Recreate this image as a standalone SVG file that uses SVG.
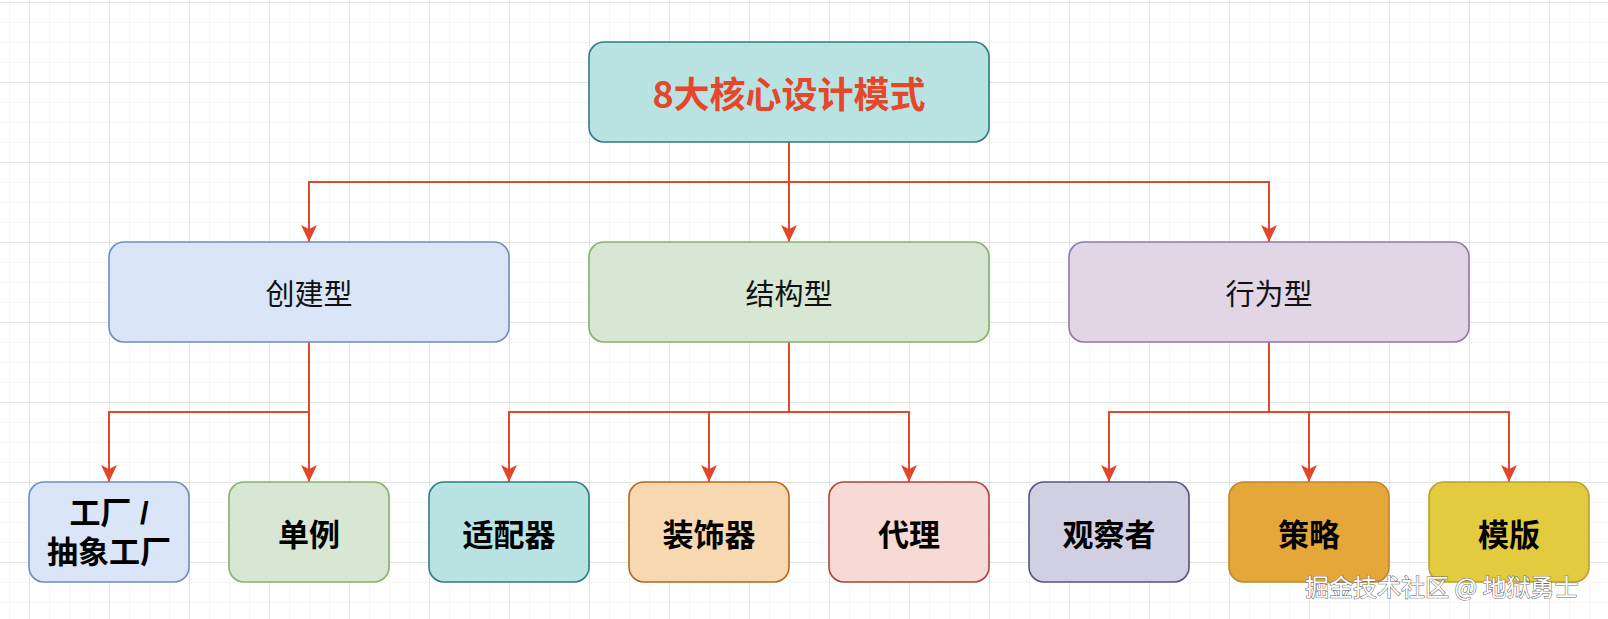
<svg xmlns="http://www.w3.org/2000/svg" width="1608" height="619" viewBox="0 0 1608 619">
  <style>
    .box { stroke-width: 1.6; }
    .t2 { font-family: "Noto Sans CJK SC", "Noto Sans", sans-serif; font-size: 29px; fill: #111; text-anchor: middle; dominant-baseline: central; }
    .t3 { font-family: "Noto Sans CJK SC", "Noto Sans", sans-serif; font-size: 31px; font-weight: 700; fill: #000; text-anchor: middle; dominant-baseline: central; }
    .t3m { font-family: "Liberation Sans", "Noto Sans CJK SC", sans-serif; font-size: 31px; font-weight: 700; fill: #000; text-anchor: middle; }
    .root { font-family: "Noto Sans CJK SC", "Noto Sans", sans-serif; font-size: 36px; font-weight: 700; fill: #e4472a; text-anchor: middle; dominant-baseline: central; }
    .edge { fill: none; stroke: #e0472b; stroke-width: 2; }
    .wm { font-family: "Noto Sans CJK SC", "Noto Sans", sans-serif; font-size: 24px; fill: #ffffff; stroke: #6a6a6a; stroke-width: 1.1; paint-order: stroke; }
  </style>
  <defs>
    <pattern id="minor" width="20" height="20" patternUnits="userSpaceOnUse" x="9" y="2">
      <path d="M0,0 H20 M0,0 V20" fill="none" stroke="#f4f4f4" stroke-width="1.5"/>
    </pattern>
    <pattern id="major" width="80" height="80" patternUnits="userSpaceOnUse" x="29" y="2">
      <path d="M0,0 H80 M0,0 V80" fill="none" stroke="#d3d3d3" stroke-width="1"/>
    </pattern>
    <marker id="arr" markerUnits="userSpaceOnUse" markerWidth="18" markerHeight="18" viewBox="0 0 18 18" refX="17" refY="9" orient="auto">
      <path d="M0,1 L17,9 L0,17 L4,9 z" fill="#e0472b"/>
    </marker>
  </defs>

  <rect width="1608" height="619" fill="#ffffff"/>
  <rect width="1608" height="619" fill="url(#minor)"/>
  <rect width="1608" height="619" fill="url(#major)"/>

  <g id="connectors">
    <path class="edge" d="M789,142 V182 H309 V242" marker-end="url(#arr)"/>
    <path class="edge" d="M789,182 V242" marker-end="url(#arr)"/>
    <path class="edge" d="M789,182 H1269 V242" marker-end="url(#arr)"/>
    <path class="edge" d="M309,342 V412 H109 V482" marker-end="url(#arr)"/>
    <path class="edge" d="M309,412 V482" marker-end="url(#arr)"/>
    <path class="edge" d="M789,342 V412 H509 V482" marker-end="url(#arr)"/>
    <path class="edge" d="M789,412 H709 V482" marker-end="url(#arr)"/>
    <path class="edge" d="M789,412 H909 V482" marker-end="url(#arr)"/>
    <path class="edge" d="M1269,342 V412 H1109 V482" marker-end="url(#arr)"/>
    <path class="edge" d="M1269,412 H1309 V482" marker-end="url(#arr)"/>
    <path class="edge" d="M1269,412 H1509 V482" marker-end="url(#arr)"/>
  </g>

  <g id="root">
    <rect class="box" x="589" y="42" width="400" height="100" rx="15" fill="#b9e2e3" stroke="#2f7c80"/>
    <text class="root" x="789" y="92">8大核心设计模式</text>
  </g>

  <g id="creational">
    <rect class="box" x="109" y="242" width="400" height="100" rx="15" fill="#dae6f8" stroke="#6f8dbc"/>
    <text class="t2" x="309" y="292">创建型</text>
  </g>
  <g id="structural">
    <rect class="box" x="589" y="242" width="400" height="100" rx="15" fill="#d7e7d4" stroke="#86b06a"/>
    <text class="t2" x="789" y="292">结构型</text>
  </g>
  <g id="behavioral">
    <rect class="box" x="1069" y="242" width="400" height="100" rx="15" fill="#e1d5e6" stroke="#9378a6"/>
    <text class="t2" x="1269" y="292">行为型</text>
  </g>

  <g id="factory">
    <rect class="box" x="29" y="482" width="160" height="100" rx="15" fill="#dae6f8" stroke="#6f8dbc"/>
    <text class="t3m"><tspan x="109" y="524">工厂 /</tspan><tspan x="109" y="563">抽象工厂</tspan></text>
  </g>
  <g id="singleton">
    <rect class="box" x="229" y="482" width="160" height="100" rx="15" fill="#d7e7d4" stroke="#86b06a"/>
    <text class="t3" x="309" y="532">单例</text>
  </g>
  <g id="adapter">
    <rect class="box" x="429" y="482" width="160" height="100" rx="15" fill="#b9e2e3" stroke="#2f7c80"/>
    <text class="t3" x="509" y="532">适配器</text>
  </g>
  <g id="decorator">
    <rect class="box" x="629" y="482" width="160" height="100" rx="15" fill="#f7d8b0" stroke="#b5671c"/>
    <text class="t3" x="709" y="532">装饰器</text>
  </g>
  <g id="proxy">
    <rect class="box" x="829" y="482" width="160" height="100" rx="15" fill="#f7dad6" stroke="#ad4436"/>
    <text class="t3" x="909" y="532">代理</text>
  </g>
  <g id="observer">
    <rect class="box" x="1029" y="482" width="160" height="100" rx="15" fill="#d1cfe2" stroke="#58537d"/>
    <text class="t3" x="1109" y="532">观察者</text>
  </g>
  <g id="strategy">
    <rect class="box" x="1229" y="482" width="160" height="100" rx="15" fill="#e6a73a" stroke="#c1852b"/>
    <text class="t3" x="1309" y="532">策略</text>
  </g>
  <g id="template">
    <rect class="box" x="1429" y="482" width="160" height="100" rx="15" fill="#e2cb3e" stroke="#b9a12f"/>
    <text class="t3" x="1509" y="532">模版</text>
  </g>

  <text class="wm" x="1305" y="596">掘金技术社区 @ 地狱勇士</text>
</svg>
